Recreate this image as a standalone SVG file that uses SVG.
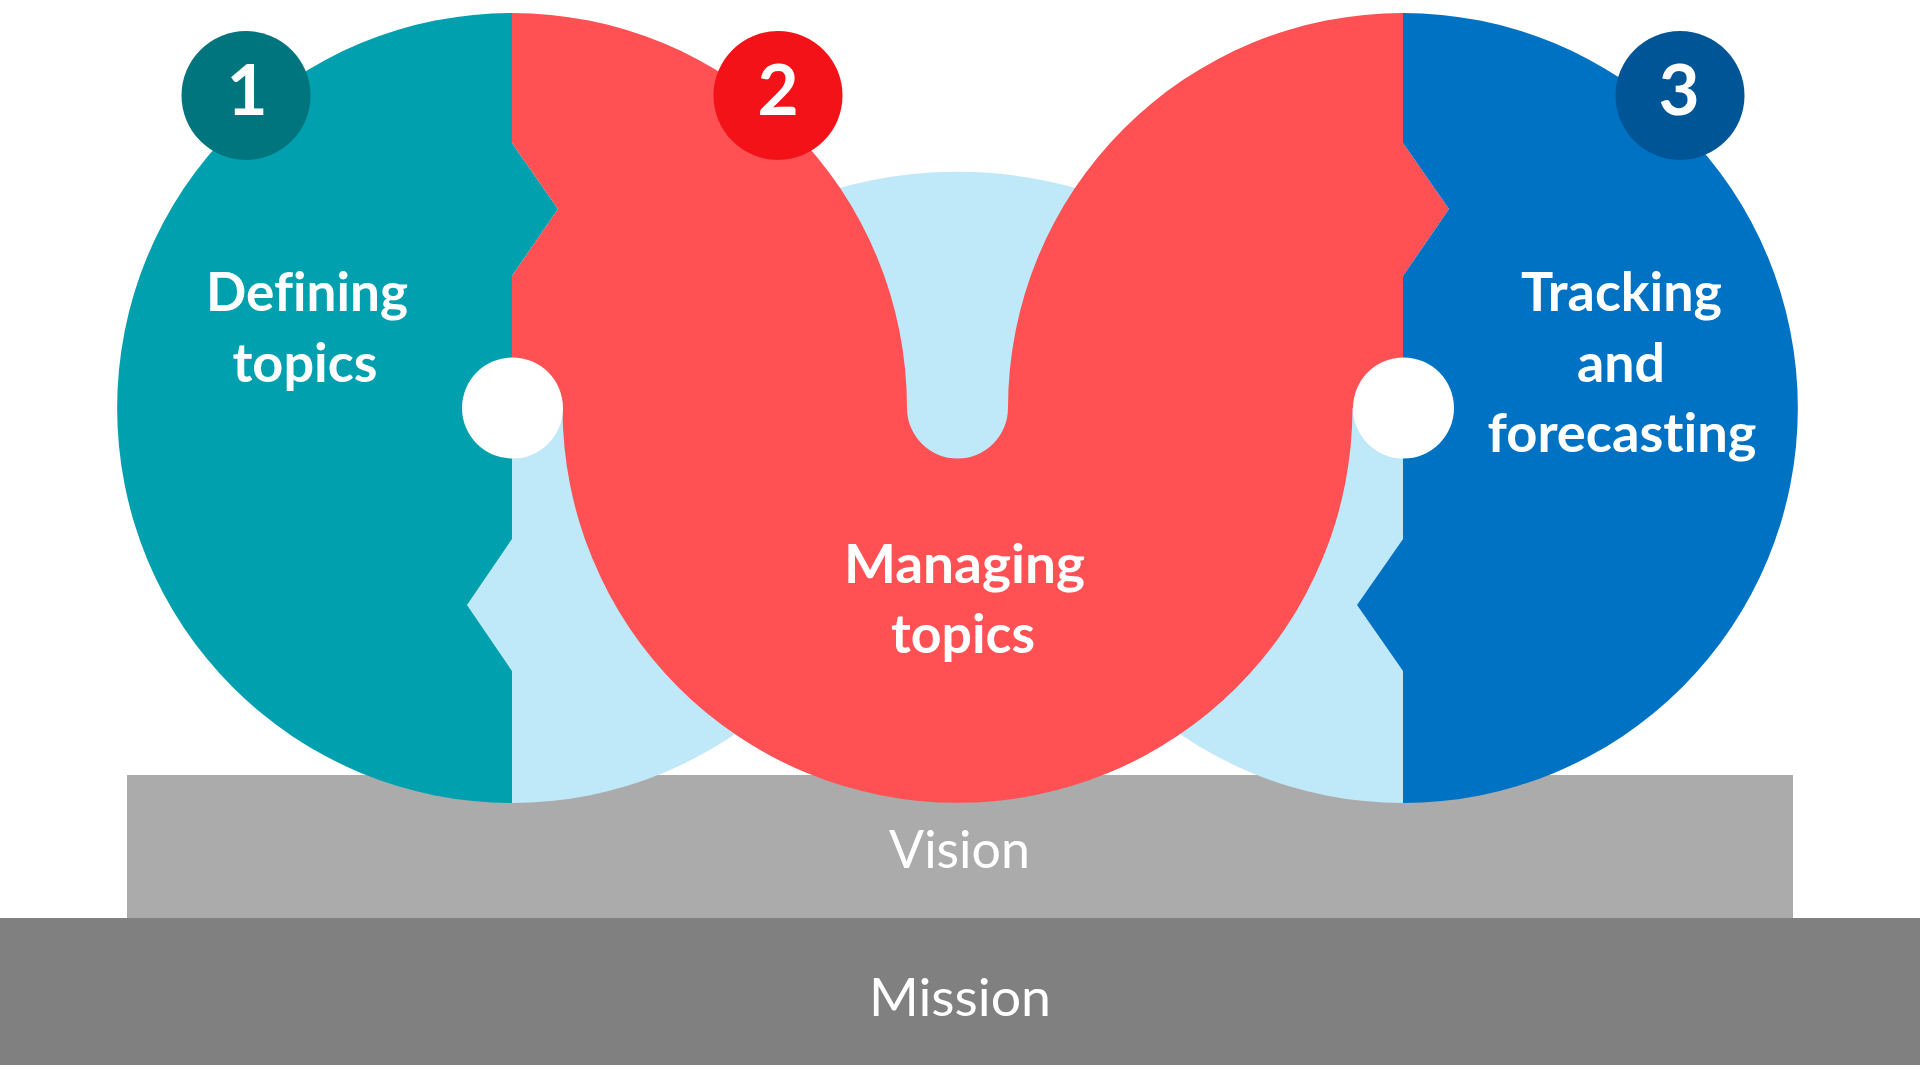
<svg xmlns="http://www.w3.org/2000/svg" width="1920" height="1080" viewBox="0 0 1920 1080">
  <style>
    text { font-variant-ligatures: none; font-feature-settings: "liga" 0, "clig" 0, "dlig" 0; }
    .lbl { font-family: "Lato", "Open Sans", "Liberation Sans", sans-serif; font-weight: 700; font-size: 53px; fill: #ffffff; text-anchor: middle; }
    .num { font-family: "Lato", "Open Sans", "Liberation Sans", sans-serif; font-weight: 700; font-size: 71px; fill: #ffffff; text-anchor: middle; }
    .base { font-family: "Lato", "Open Sans", "Liberation Sans", sans-serif; font-weight: 400; font-size: 53px; fill: #ffffff; text-anchor: middle; }
    .lightblue { fill: #BFE8F8; }
    .hole { fill: #ffffff; }
  </style>
  <rect width="1920" height="1080" fill="#ffffff"/>

  <g id="mission">
    <rect x="0" y="918" width="1920" height="147" fill="#808080"/>
    <text class="base" x="960" y="1016" textLength="182" lengthAdjust="spacingAndGlyphs">Mission</text>
  </g>
  <g id="vision">
    <rect x="127" y="775" width="1666" height="143" fill="#ABABAB"/>
  </g>

  <g id="background-piece">
    <path class="lightblue" d="M512,408 L907,408 A395,395 0 0 1 512,803 L512,671 L467,605 L512,539 Z"/>
    <path class="lightblue" d="M1403,408 L1403,539 L1357,605 L1403,671 L1403,803 A395,395 0 0 1 1008,408 Z"/>
    <path class="lightblue" d="M836,189 A439,439 0 0 1 1079,189 L1010,460 L905,460 Z"/>
  </g>

  <g id="node-defining">
    <path fill="#00A0AF" d="M512,13 A395,395 0 0 0 512,803 L512,671 L467,605 L512,539 L512,276 L558,209 L512,143 Z"/>
    <circle cx="246" cy="95.5" r="64.5" fill="#00757D"/>
    <text class="num" x="247" y="115">1</text>
    <text class="lbl" x="307" y="311" textLength="202" lengthAdjust="spacingAndGlyphs">Defining</text>
    <text class="lbl" x="305" y="382" textLength="145" lengthAdjust="spacingAndGlyphs">topics</text>
  </g>

  <g id="node-managing">
    <path fill="#FF5053" d="M512,13 A395,395 0 0 1 907,408 A50.5,50.5 0 0 0 1008,408 A395,395 0 0 1 1403,13 L1403,143 L1449,209 L1403,276 L1403,408 L1352.5,408 A395,395 0 0 1 562.5,408 L512,408 L512,276 L558,209 L512,143 Z"/>
    <circle cx="778" cy="95.5" r="64.5" fill="#F21218"/>
    <text class="num" x="778" y="115">2</text>
    <text class="lbl" x="964.5" y="583" textLength="241" lengthAdjust="spacingAndGlyphs">Managing</text>
    <text class="lbl" x="963" y="653" textLength="144" lengthAdjust="spacingAndGlyphs">topics</text>
  </g>

  <g id="node-tracking">
    <path fill="#0072C3" d="M1403,13 A395,395 0 0 1 1403,803 L1403,671 L1357,605 L1403,539 L1403,276 L1449,209 L1403,143 Z"/>
    <circle cx="1680" cy="95.5" r="64.5" fill="#005597"/>
    <text class="num" x="1679" y="115">3</text>
    <text class="lbl" x="1621.5" y="311" textLength="201" lengthAdjust="spacingAndGlyphs">Tracking</text>
    <text class="lbl" x="1621" y="382" textLength="88" lengthAdjust="spacingAndGlyphs">and</text>
    <text class="lbl" x="1622" y="452" textLength="269" lengthAdjust="spacingAndGlyphs">forecasting</text>
  </g>

  <g id="holes">
    <circle class="hole" cx="512.5" cy="408" r="50.5"/>
    <circle class="hole" cx="1403.5" cy="408" r="50.5"/>
  </g>

  <g id="vision-label">
    <text class="base" x="959.5" y="868" textLength="141" lengthAdjust="spacingAndGlyphs">Vision</text>
  </g>

  <g id="connectors"/>
</svg>
